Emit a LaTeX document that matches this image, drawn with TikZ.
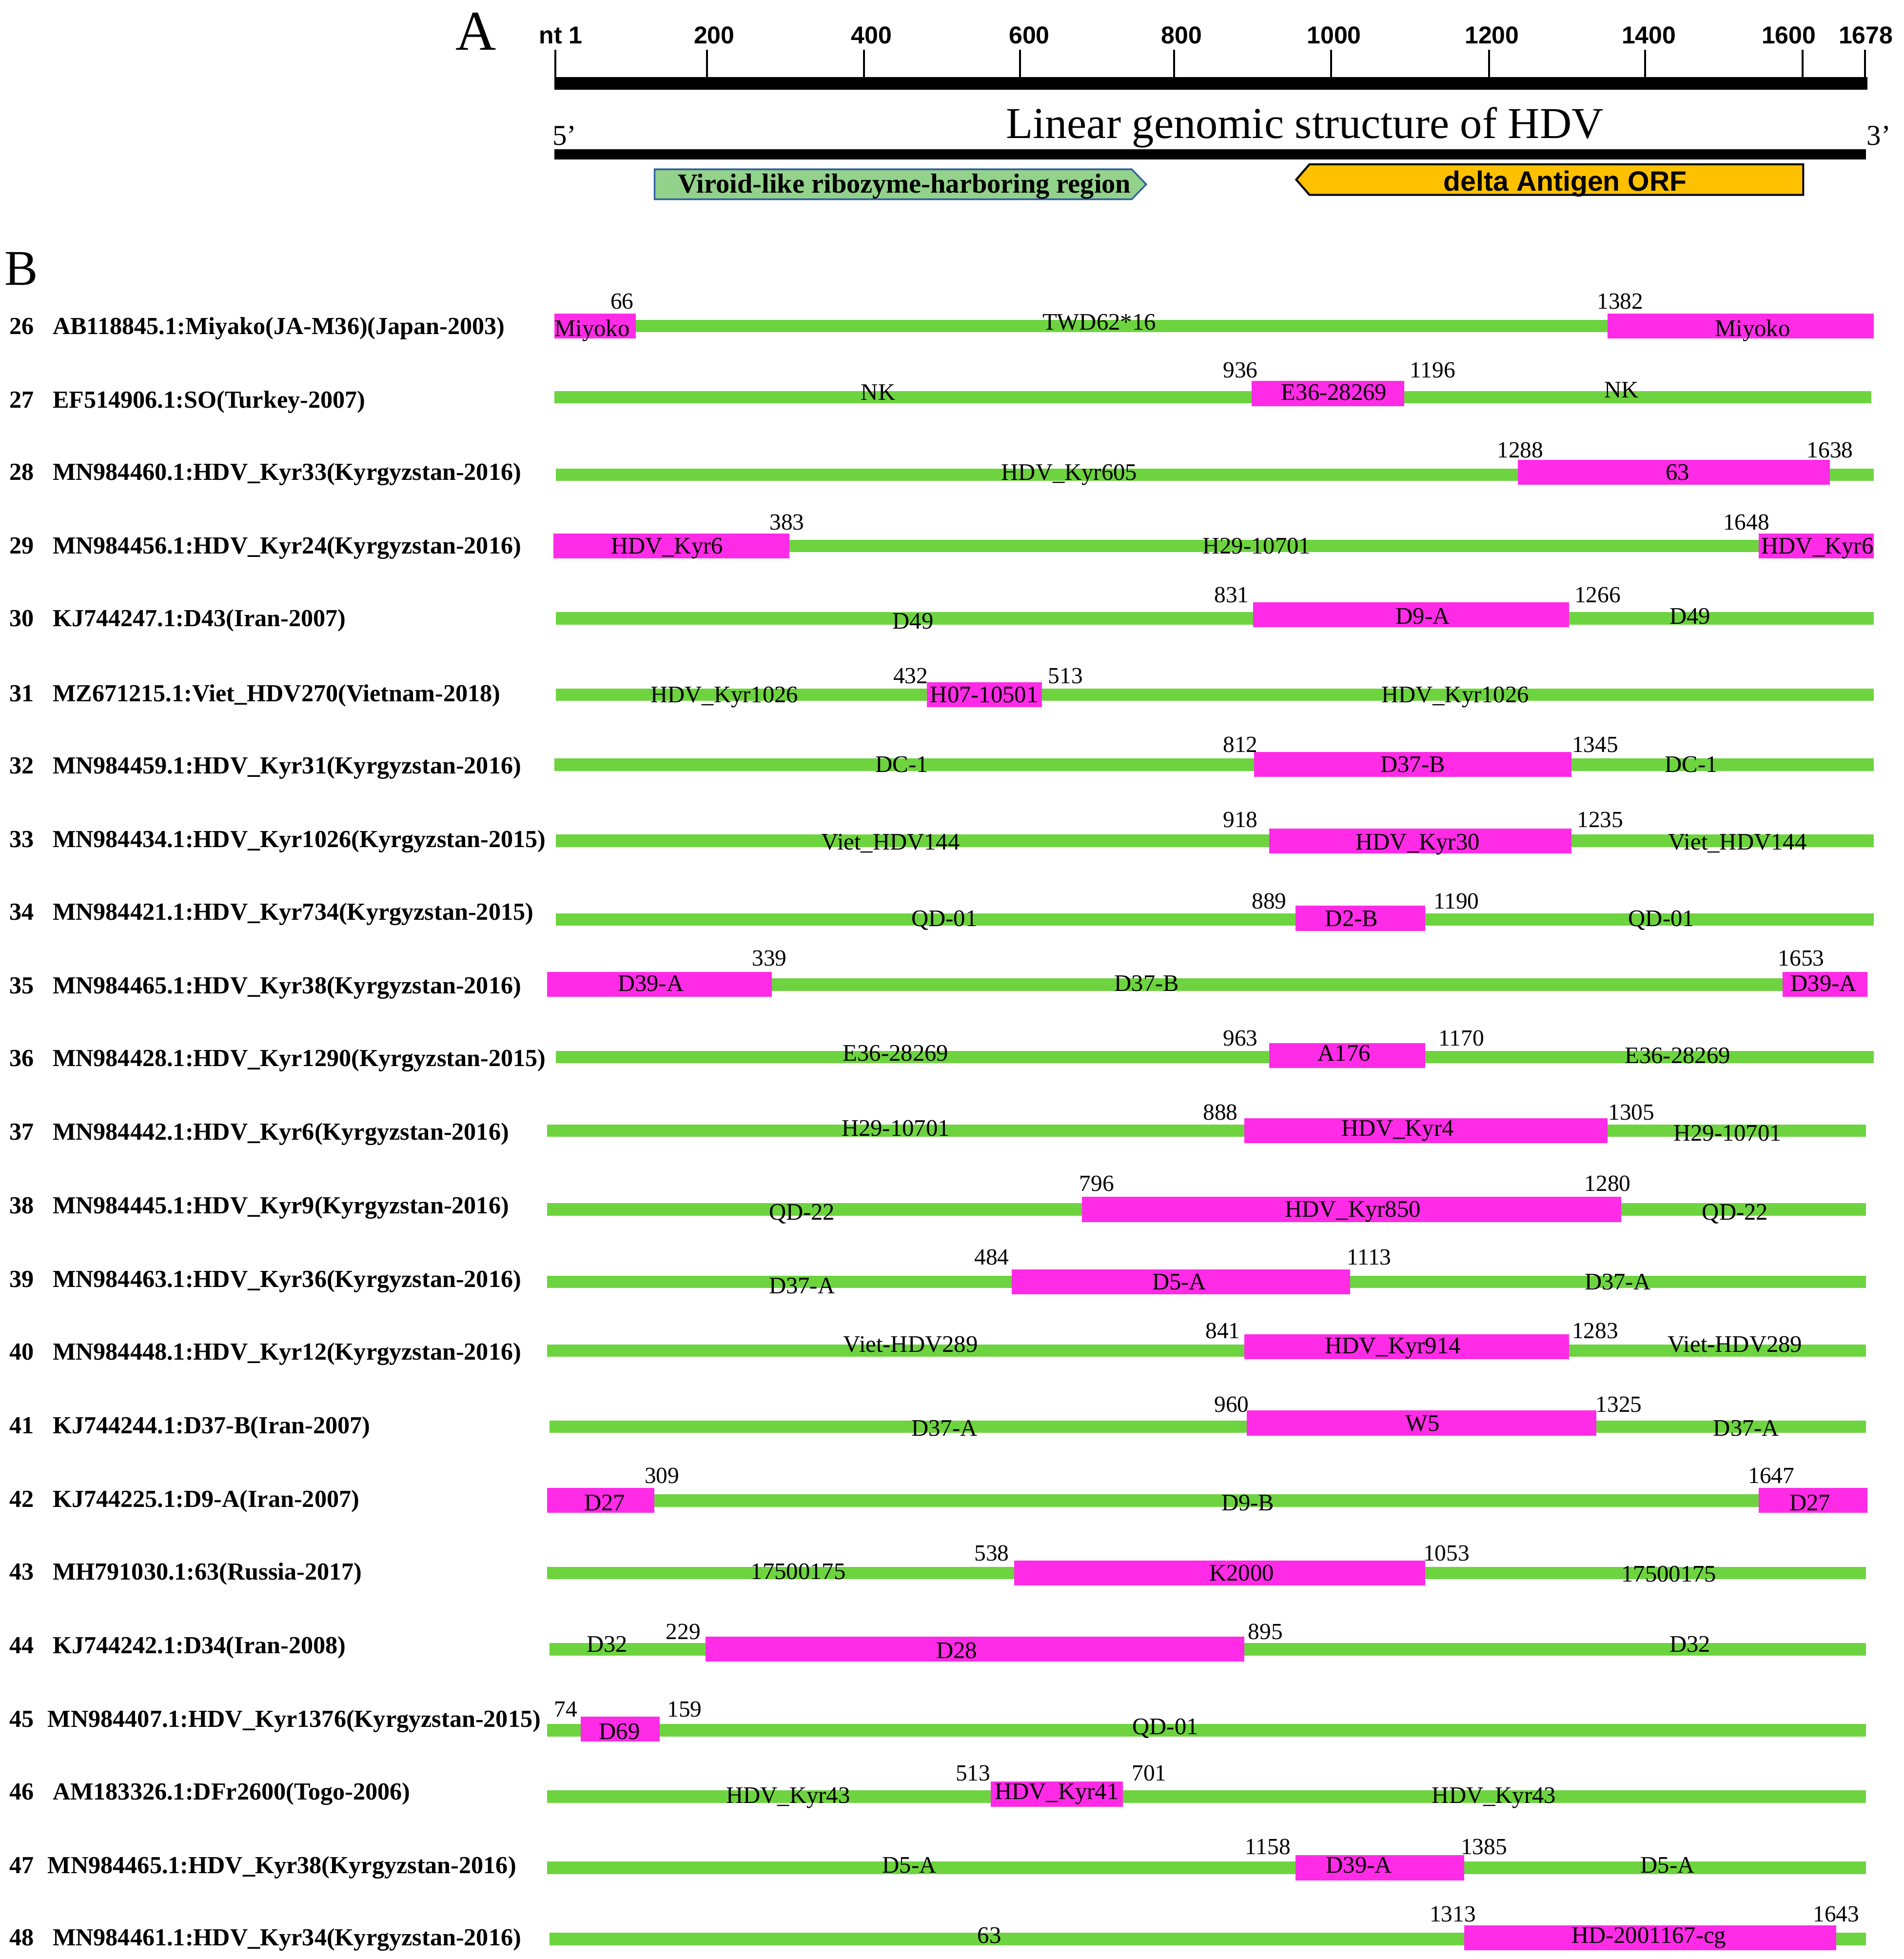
\documentclass[tikz,border=0pt]{standalone}
\usepackage{fontspec}
\setmainfont{Liberation Serif}
\newfontfamily\arialf{Liberation Sans}
\definecolor{barg}{HTML}{6DD43F}
\definecolor{boxp}{HTML}{FF2BE6}
\definecolor{virg}{HTML}{93D28B}
\definecolor{virb}{HTML}{2F5E9E}
\definecolor{orfc}{HTML}{FFC000}
\tikzset{
  rnum/.style={font=\fontsize{19.6}{20}\selectfont\bfseries, inner sep=0pt, text height=12.8pt, text depth=0pt, anchor=center},
  rlab/.style={font=\fontsize{19.6}{20}\selectfont\bfseries, inner sep=0pt, text height=12.8pt, text depth=0pt, anchor=west},
  posn/.style={font=\fontsize{18.5}{19}\selectfont, inner sep=0pt, text height=12.5pt, text depth=0pt},
  segl/.style={font=\fontsize{19}{19}\selectfont, inner sep=0pt, text height=12.5pt, text depth=0pt},
  tickl/.style={font=\arialf\fontsize{19.5}{20}\selectfont\bfseries, inner sep=0pt, text height=14pt, text depth=0pt},
  tickline/.style={line width=1.5pt, black},
}
\newcommand\GreenSeg[3]{\fill[barg] (#2,#1-5) rectangle (#3,#1+5);}
\newcommand\PinkSeg[3]{\fill[boxp] (#2,#1-10) rectangle (#3,#1+10);}
\begin{document}
\begin{tikzpicture}[x=1pt,y=-1pt]
\useasboundingbox (0,0) rectangle (1524,1568);
\fill[white] (0,0) rectangle (1524,1568);
% ---------- Part A ----------
\node[font=\fontsize{45}{45}\selectfont, inner sep=0pt, anchor=base] (labA) at (381,40) {A};
\fill[black] (444,61.5) rectangle (1495,72);
\foreach \x/\t/\lx [count=\i] in {444.7/nt 1/449, 566/200/571.8, 691.6/400/697.6, 816.5/600/824, 939.8/800/946, 1065.5/1000/1068, 1192/1200/1194.4, 1317/1400/1320, 1443/1600/1432, 1493/1678/1493.7}{
  \draw[tickline] (\x,40) -- (\x,62);
  \node[tickl] (tick\i) at (\lx,28) {\t};
}
\node[font=\fontsize{35.3}{35}\selectfont, inner sep=0pt, anchor=base] (title) at (1044.5,110.5) {Linear genomic structure of HDV};
\node[font=\fontsize{23}{23}\selectfont, inner sep=0pt, anchor=base] (five) at (452,116) {5'};
\node[font=\fontsize{23}{23}\selectfont, inner sep=0pt, anchor=base] (three) at (1504,116) {3'};
\fill[black] (444,119.5) rectangle (1494,127.5);
% viroid-like region arrow
\draw[virb, line width=1.3pt, fill=virg] (524,135.5) -- (906,135.5) -- (917.6,147.5) -- (906,159.5) -- (524,159.5) -- cycle;
\node[font=\fontsize{22}{22}\selectfont\bfseries, inner sep=0pt, anchor=base] (viroid) at (724,154.2) {Viroid-like ribozyme-harboring region};
% delta antigen ORF arrow
\draw[black, line width=1.6pt, fill=orfc] (1443.6,131.5) -- (1048.3,131.5) -- (1037.7,143.8) -- (1048.3,156) -- (1443.6,156) -- cycle;
\node[font=\arialf\fontsize{22.3}{22}\selectfont\bfseries, inner sep=0pt, anchor=base] (orf) at (1253,153) {delta Antigen ORF};
% ---------- Part B ----------
\node[font=\fontsize{40}{40}\selectfont, inner sep=0pt, anchor=base] (labB) at (17,228) {B};
% Row 26
\node[rnum] (n26) at (17.5,261) {26};
\node[rlab] (l26) at (42,261) {AB118845.1:Miyako(JA-M36)(Japan-2003)};
\GreenSeg{261}{509}{1287}
\PinkSeg{261}{444}{509}
\PinkSeg{261}{1287}{1500}
\node[posn] (p26a) at (498,241) {66};
\node[posn] (p26b) at (1297,241) {1382};
\node[segl] (s26a) at (474,263) {Miyoko};
\node[segl] (s26b) at (880,258) {TWD62*16};
\node[segl] (s26c) at (1403,263) {Miyoko};
% Row 27
\node[rnum] (n27) at (17.5,320) {27};
\node[rlab] (l27) at (42,320) {EF514906.1:SO(Turkey-2007)};
\GreenSeg{318}{444}{1498}
\PinkSeg{315}{1002}{1124}
\node[posn] (p27a) at (993,296) {936};
\node[posn] (p27b) at (1147,296) {1196};
\node[segl] (s27a) at (703,314) {NK};
\node[segl] (s27b) at (1068,314) {E36-28269};
\node[segl] (s27c) at (1298,312) {NK};
% Row 28
\node[rnum] (n28) at (17.5,378) {28};
\node[rlab] (l28) at (42,378) {MN984460.1:HDV\_Kyr33(Kyrgyzstan-2016)};
\GreenSeg{380}{445}{1500}
\PinkSeg{378}{1215}{1465}
\node[posn] (p28a) at (1217,360) {1288};
\node[posn] (p28b) at (1465,360) {1638};
\node[segl] (s28a) at (856,378) {HDV\_Kyr605};
\node[segl] (s28b) at (1343,378) {63};
% Row 29
\node[rnum] (n29) at (17.5,437) {29};
\node[rlab] (l29) at (42,437) {MN984456.1:HDV\_Kyr24(Kyrgyzstan-2016)};
\GreenSeg{437}{632}{1408}
\PinkSeg{437}{443}{632}
\PinkSeg{437}{1408}{1500}
\node[posn] (p29a) at (630,418) {383};
\node[posn] (p29b) at (1398,418) {1648};
\node[segl] (s29a) at (534,437) {HDV\_Kyr6};
\node[segl] (s29b) at (1006,437) {H29-10701};
\node[segl] (s29c) at (1455,437) {HDV\_Kyr6};
% Row 30
\node[rnum] (n30) at (17.5,495) {30};
\node[rlab] (l30) at (42,495) {KJ744247.1:D43(Iran-2007)};
\GreenSeg{495}{445}{1500}
\PinkSeg{492}{1003}{1256}
\node[posn] (p30a) at (986,476) {831};
\node[posn] (p30b) at (1279,476) {1266};
\node[segl] (s30a) at (731,497) {D49};
\node[segl] (s30b) at (1139,493) {D9-A};
\node[segl] (s30c) at (1353,493) {D49};
% Row 31
\node[rnum] (n31) at (17.5,555) {31};
\node[rlab] (l31) at (42,555) {MZ671215.1:Viet\_HDV270(Vietnam-2018)};
\GreenSeg{556}{445}{1500}
\PinkSeg{556}{742}{834}
\node[posn] (p31a) at (729,541) {432};
\node[posn] (p31b) at (853,541) {513};
\node[segl] (s31a) at (580,556) {HDV\_Kyr1026};
\node[segl] (s31b) at (788,556) {H07-10501};
\node[segl] (s31c) at (1165,556) {HDV\_Kyr1026};
% Row 32
\node[rnum] (n32) at (17.5,613) {32};
\node[rlab] (l32) at (42,613) {MN984459.1:HDV\_Kyr31(Kyrgyzstan-2016)};
\GreenSeg{612}{444}{1500}
\PinkSeg{612}{1004}{1258}
\node[posn] (p32a) at (993,596) {812};
\node[posn] (p32b) at (1277,596) {1345};
\node[segl] (s32a) at (722,612) {DC-1};
\node[segl] (s32b) at (1131,612) {D37-B};
\node[segl] (s32c) at (1354,612) {DC-1};
% Row 33
\node[rnum] (n33) at (17.5,672) {33};
\node[rlab] (l33) at (42,672) {MN984434.1:HDV\_Kyr1026(Kyrgyzstan-2015)};
\GreenSeg{673}{445}{1500}
\PinkSeg{673}{1016}{1258}
\node[posn] (p33a) at (993,656) {918};
\node[posn] (p33b) at (1281,656) {1235};
\node[segl] (s33a) at (713,674) {Viet\_HDV144};
\node[segl] (s33b) at (1135,674) {HDV\_Kyr30};
\node[segl] (s33c) at (1391,674) {Viet\_HDV144};
% Row 34
\node[rnum] (n34) at (17.5,730) {34};
\node[rlab] (l34) at (42,730) {MN984421.1:HDV\_Kyr734(Kyrgyzstan-2015)};
\GreenSeg{736}{445}{1500}
\PinkSeg{735}{1037}{1141}
\node[posn] (p34a) at (1016,721) {889};
\node[posn] (p34b) at (1166,721) {1190};
\node[segl] (s34a) at (756,735) {QD-01};
\node[segl] (s34b) at (1082,735) {D2-B};
\node[segl] (s34c) at (1330,735) {QD-01};
% Row 35
\node[rnum] (n35) at (17.5,789) {35};
\node[rlab] (l35) at (42,789) {MN984465.1:HDV\_Kyr38(Kyrgyzstan-2016)};
\GreenSeg{788}{618}{1427}
\PinkSeg{788}{438}{618}
\PinkSeg{788}{1427}{1495}
\node[posn] (p35a) at (616,767) {339};
\node[posn] (p35b) at (1442,767) {1653};
\node[segl] (s35a) at (521,787) {D39-A};
\node[segl] (s35b) at (918,787) {D37-B};
\node[segl] (s35c) at (1460,787) {D39-A};
% Row 36
\node[rnum] (n36) at (17.5,847) {36};
\node[rlab] (l36) at (42,847) {MN984428.1:HDV\_Kyr1290(Kyrgyzstan-2015)};
\GreenSeg{846}{445}{1500}
\PinkSeg{845}{1016}{1141}
\node[posn] (p36a) at (993,831) {963};
\node[posn] (p36b) at (1170,831) {1170};
\node[segl] (s36a) at (717,843) {E36-28269};
\node[segl] (s36b) at (1076,843) {A176};
\node[segl] (s36c) at (1343,845) {E36-28269};
% Row 37
\node[rnum] (n37) at (17.5,906) {37};
\node[rlab] (l37) at (42,906) {MN984442.1:HDV\_Kyr6(Kyrgyzstan-2016)};
\GreenSeg{905}{438}{1494}
\PinkSeg{905}{996}{1287}
\node[posn] (p37a) at (977,890) {888};
\node[posn] (p37b) at (1306,890) {1305};
\node[segl] (s37a) at (717,903) {H29-10701};
\node[segl] (s37b) at (1119,903) {HDV\_Kyr4};
\node[segl] (s37c) at (1383,907) {H29-10701};
% Row 38
\node[rnum] (n38) at (17.5,965) {38};
\node[rlab] (l38) at (42,965) {MN984445.1:HDV\_Kyr9(Kyrgyzstan-2016)};
\GreenSeg{968}{438}{1494}
\PinkSeg{968}{866}{1298}
\node[posn] (p38a) at (878,947) {796};
\node[posn] (p38b) at (1287,947) {1280};
\node[segl] (s38a) at (642,970) {QD-22};
\node[segl] (s38b) at (1083,968) {HDV\_Kyr850};
\node[segl] (s38c) at (1389,970) {QD-22};
% Row 39
\node[rnum] (n39) at (17.5,1024) {39};
\node[rlab] (l39) at (42,1024) {MN984463.1:HDV\_Kyr36(Kyrgyzstan-2016)};
\GreenSeg{1026}{438}{1494}
\PinkSeg{1026}{810}{1081}
\node[posn] (p39a) at (794,1006) {484};
\node[posn] (p39b) at (1096,1006) {1113};
\node[segl] (s39a) at (642,1029) {D37-A};
\node[segl] (s39b) at (944,1026) {D5-A};
\node[segl] (s39c) at (1295,1026) {D37-A};
% Row 40
\node[rnum] (n40) at (17.5,1082) {40};
\node[rlab] (l40) at (42,1082) {MN984448.1:HDV\_Kyr12(Kyrgyzstan-2016)};
\GreenSeg{1081}{438}{1494}
\PinkSeg{1078}{996}{1256}
\node[posn] (p40a) at (979,1065) {841};
\node[posn] (p40b) at (1277,1065) {1283};
\node[segl] (s40a) at (729,1076) {Viet-HDV289};
\node[segl] (s40b) at (1115,1077) {HDV\_Kyr914};
\node[segl] (s40c) at (1389,1076) {Viet-HDV289};
% Row 41
\node[rnum] (n41) at (17.5,1141) {41};
\node[rlab] (l41) at (42,1141) {KJ744244.1:D37-B(Iran-2007)};
\GreenSeg{1142}{440}{1494}
\PinkSeg{1139}{998}{1278}
\node[posn] (p41a) at (986,1124) {960};
\node[posn] (p41b) at (1296,1124) {1325};
\node[segl] (s41a) at (756,1143) {D37-A};
\node[segl] (s41b) at (1139,1139) {W5};
\node[segl] (s41c) at (1398,1143) {D37-A};
% Row 42
\node[rnum] (n42) at (17.5,1200) {42};
\node[rlab] (l42) at (42,1200) {KJ744225.1:D9-A(Iran-2007)};
\GreenSeg{1201}{524}{1408}
\PinkSeg{1201}{438}{524}
\PinkSeg{1201}{1408}{1495}
\node[posn] (p42a) at (530,1181) {309};
\node[posn] (p42b) at (1418,1181) {1647};
\node[segl] (s42a) at (484,1203) {D27};
\node[segl] (s42b) at (999,1203) {D9-B};
\node[segl] (s42c) at (1449,1203) {D27};
% Row 43
\node[rnum] (n43) at (17.5,1258) {43};
\node[rlab] (l43) at (42,1258) {MH791030.1:63(Russia-2017)};
\GreenSeg{1259}{438}{1494}
\PinkSeg{1259}{812}{1141}
\node[posn] (p43a) at (794,1243) {538};
\node[posn] (p43b) at (1158,1243) {1053};
\node[segl] (s43a) at (639,1258) {17500175};
\node[segl] (s43b) at (994,1259) {K2000};
\node[segl] (s43c) at (1336,1260) {17500175};
% Row 44
\node[rnum] (n44) at (17.5,1317) {44};
\node[rlab] (l44) at (42,1317) {KJ744242.1:D34(Iran-2008)};
\GreenSeg{1320}{440}{1494}
\PinkSeg{1320}{565}{996}
\node[posn] (p44a) at (547,1306) {229};
\node[posn] (p44b) at (1013,1306) {895};
\node[segl] (s44a) at (486,1316) {D32};
\node[segl] (s44b) at (766,1321) {D28};
\node[segl] (s44c) at (1353,1316) {D32};
% Row 45
\node[rnum] (n45) at (17.5,1376) {45};
\node[rlab] (l45) at (38,1376) {MN984407.1:HDV\_Kyr1376(Kyrgyzstan-2015)};
\GreenSeg{1385}{438}{1494}
\PinkSeg{1384}{465}{528}
\node[posn] (p45a) at (453,1368) {74};
\node[posn] (p45b) at (548,1368) {159};
\node[segl] (s45a) at (496,1386) {D69};
\node[segl] (s45b) at (933,1382) {QD-01};
% Row 46
\node[rnum] (n46) at (17.5,1434) {46};
\node[rlab] (l46) at (42,1434) {AM183326.1:DFr2600(Togo-2006)};
\GreenSeg{1438}{438}{1494}
\PinkSeg{1436}{793}{899}
\node[posn] (p46a) at (779,1419) {513};
\node[posn] (p46b) at (920,1419) {701};
\node[segl] (s46a) at (631,1437) {HDV\_Kyr43};
\node[segl] (s46b) at (846,1434) {HDV\_Kyr41};
\node[segl] (s46c) at (1196,1437) {HDV\_Kyr43};
% Row 47
\node[rnum] (n47) at (17.5,1493) {47};
\node[rlab] (l47) at (38,1493) {MN984465.1:HDV\_Kyr38(Kyrgyzstan-2016)};
\GreenSeg{1495}{438}{1494}
\PinkSeg{1495}{1037}{1172}
\node[posn] (p47a) at (1015,1478) {1158};
\node[posn] (p47b) at (1188,1478) {1385};
\node[segl] (s47a) at (728,1493) {D5-A};
\node[segl] (s47b) at (1088,1493) {D39-A};
\node[segl] (s47c) at (1335,1493) {D5-A};
% Row 48
\node[rnum] (n48) at (17.5,1551) {48};
\node[rlab] (l48) at (42,1551) {MN984461.1:HDV\_Kyr34(Kyrgyzstan-2016)};
\GreenSeg{1552}{440}{1494}
\PinkSeg{1551}{1172}{1470}
\node[posn] (p48a) at (1163,1532) {1313};
\node[posn] (p48b) at (1470,1532) {1643};
\node[segl] (s48a) at (792,1549) {63};
\node[segl] (s48b) at (1320,1549) {HD-2001167-cg};
\end{tikzpicture}
\end{document}
